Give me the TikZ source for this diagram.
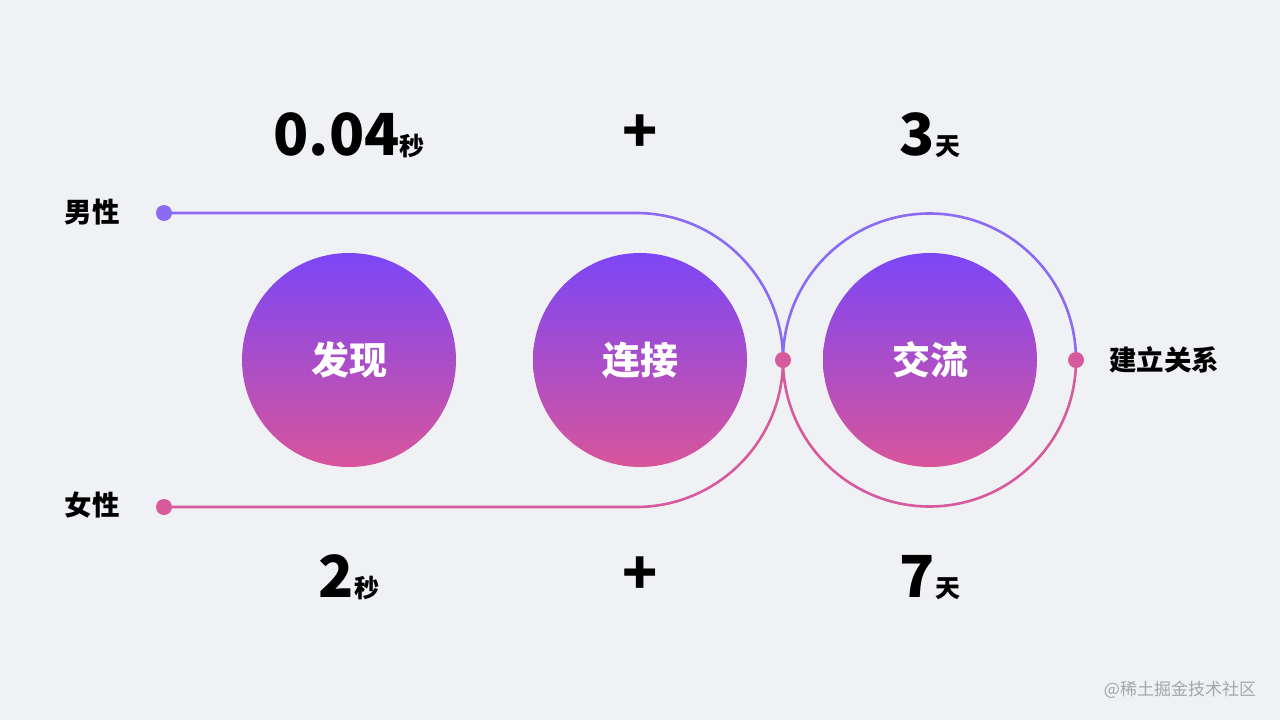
\documentclass[tikz,border=0pt]{standalone}
\usepackage{fontspec}
\setmainfont{Noto Sans CJK SC}
\definecolor{bgc}{HTML}{EFF1F4}
\definecolor{purp}{HTML}{8C6BF3}
\definecolor{pink}{HTML}{D65A9C}
\definecolor{gtop}{HTML}{7C46F6}
\definecolor{gbot}{HTML}{D8559B}
\definecolor{wm}{HTML}{A3A5A8}
\tikzset{
  pline/.style={draw=purp, line width=2.6pt},
  kline/.style={draw=pink, line width=2.6pt},
  pdot/.style={circle, fill=purp, minimum size=16pt, inner sep=0pt},
  kdot/.style={circle, fill=pink, minimum size=16pt, inner sep=0pt},
  bigc/.style={circle, minimum size=214pt, inner sep=0pt, top color=gtop, bottom color=gbot, text=white, font=\fontsize{38}{38}\selectfont\bfseries},
  lab/.style={font=\fontsize{27.5}{27.5}\selectfont\bfseries, text=black},
  num/.style={anchor=base, inner sep=0pt, text=black},
}
\newcommand{\bignum}[2]{{\fontsize{58}{58}\selectfont\bfseries #1}{\fontsize{25}{25}\selectfont\bfseries #2}}
\begin{document}
\begin{tikzpicture}[x=1pt,y=-1pt]
\fill[bgc] (0,0) rectangle (1280,720);
\useasboundingbox (0,0) rectangle (1280,720);

% top numbers
\node[num] (t1) at (349,155) {\bignum{0.04}{秒}};
\node[num] (tp) at (640,152) {\bignum{+}{}};
\node[num] (t3) at (930,155) {\bignum{3}{天}};
% bottom numbers
\node[num] (b1) at (349,597) {\bignum{2}{秒}};
\node[num] (bp) at (640,594) {\bignum{+}{}};
\node[num] (b3) at (930,597) {\bignum{7}{天}};

% circles
\node[bigc] (c1) at (349,360) {发现};
\node[bigc] (c2) at (640,360) {连接};
\node[bigc] (c3) at (930,360) {交流};

% labels
\node[lab] (male) at (92,212) {男性};
\node[lab] (female) at (92,505) {女性};
\node[lab] (rel) at (1164,360) {建立关系};

\coordinate (mtop) at (636,213);
\coordinate (fbot) at (636,507);

% lines
\node[pdot] (mdot) at (164,213) {};
\node[kdot] (fdot) at (164,507) {};
\draw[pline] (mdot.center) -- (mtop) arc[start angle=270, end angle=360, radius=147];
\draw[kline] (fdot.center) -- (fbot) arc[start angle=90, end angle=0, radius=147];
\coordinate (jl) at (783,360);
\draw[pline] (jl) arc[start angle=180, end angle=360, radius=146.5];
\draw[kline] (jl) arc[start angle=180, end angle=0, radius=146.5];
\node[kdot] (jdot) at (jl) {};
\node[kdot] (rdot) at (1076,360) {};

% watermark
\node[text=wm, font=\fontsize{17}{17}\selectfont] (wmk) at (1180,690) {@稀土掘金技术社区};
\end{tikzpicture}
\end{document}
